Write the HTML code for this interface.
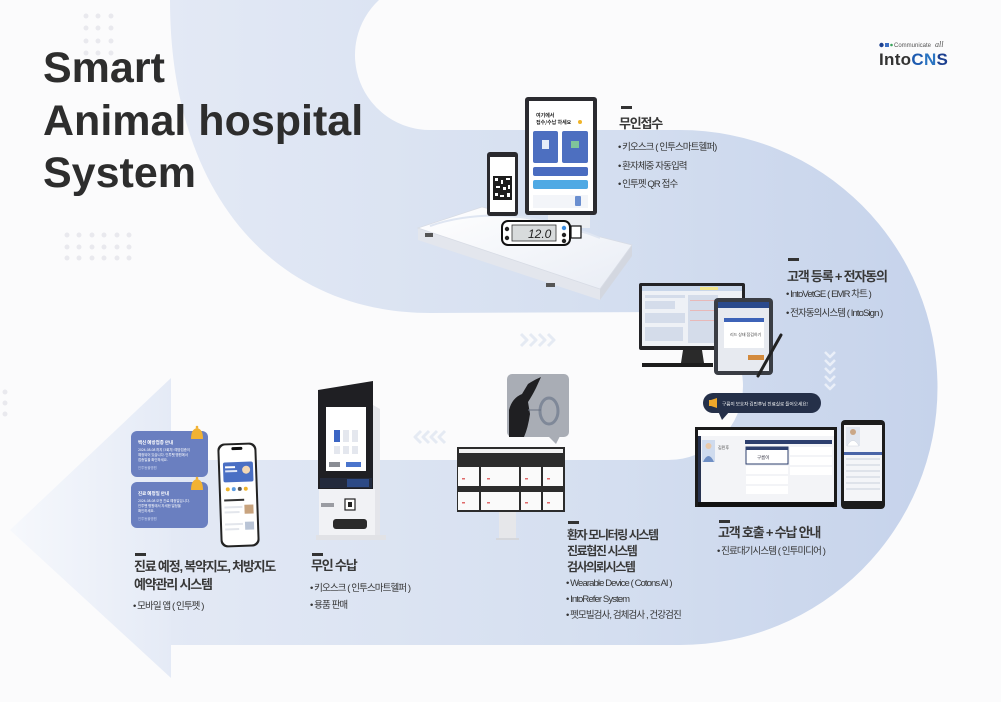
<!DOCTYPE html>
<html><head><meta charset="utf-8">
<style>
html,body{margin:0;padding:0;}
body{width:1001px;height:702px;position:relative;overflow:hidden;background:#fbfbfc;font-family:"Liberation Sans","Noto Sans CJK KR",sans-serif;}
.title{position:absolute;left:43px;top:42px;font-family:"Liberation Sans",sans-serif;font-weight:700;font-size:43px;line-height:52.5px;color:#2d2d2d;white-space:nowrap;}
.t{position:absolute;font-family:"Liberation Sans","Noto Sans CJK KR",sans-serif;font-size:13px;font-weight:700;color:#383838;letter-spacing:-1.2px;white-space:nowrap;line-height:16px;}
.b{position:absolute;font-family:"Liberation Sans","Noto Sans CJK KR",sans-serif;font-size:9.5px;font-weight:400;color:#333;letter-spacing:-0.9px;white-space:nowrap;line-height:18.5px;}
.dash{position:absolute;width:11px;height:2.5px;background:#333;}
.logo{position:absolute;left:879px;top:40px;white-space:nowrap;}
</style></head>
<body>
<svg width="1001" height="702" viewBox="0 0 1001 702" style="position:absolute;left:0;top:0">
<defs>
<linearGradient id="bandG" gradientUnits="userSpaceOnUse" x1="170" y1="0" x2="935" y2="0">
<stop offset="0" stop-color="#e3e9f5"/><stop offset="0.55" stop-color="#d5dff0"/><stop offset="1" stop-color="#c6d3eb"/>
</linearGradient>
<linearGradient id="arrowG" gradientUnits="userSpaceOnUse" x1="10" y1="0" x2="175" y2="0">
<stop offset="0" stop-color="#f6f8fc"/><stop offset="1" stop-color="#e4eaf6"/>
</linearGradient>
<linearGradient id="padG" x1="0" y1="0" x2="1" y2="1">
<stop offset="0" stop-color="#ffffff"/><stop offset="1" stop-color="#e9edf5"/>
</linearGradient>
</defs>
<!-- dot grids -->
<g fill="#e9e9ee">
<circle cx="86" cy="16" r="2.5"/><circle cx="98" cy="16" r="2.5"/><circle cx="111" cy="16" r="2.5"/>
<circle cx="86" cy="28" r="2.5"/><circle cx="98" cy="28" r="2.5"/><circle cx="111" cy="28" r="2.5"/>
<circle cx="86" cy="41" r="2.5"/><circle cx="98" cy="41" r="2.5"/><circle cx="111" cy="41" r="2.5"/>
<circle cx="86" cy="53" r="2.5"/><circle cx="98" cy="53" r="2.5"/><circle cx="111" cy="53" r="2.5"/>
<circle cx="67" cy="235" r="2.5"/><circle cx="79" cy="235" r="2.5"/><circle cx="92" cy="235" r="2.5"/><circle cx="104" cy="235" r="2.5"/><circle cx="117" cy="235" r="2.5"/><circle cx="129" cy="235" r="2.5"/>
<circle cx="67" cy="247" r="2.5"/><circle cx="79" cy="247" r="2.5"/><circle cx="92" cy="247" r="2.5"/><circle cx="104" cy="247" r="2.5"/><circle cx="117" cy="247" r="2.5"/><circle cx="129" cy="247" r="2.5"/>
<circle cx="67" cy="258" r="2.5"/><circle cx="79" cy="258" r="2.5"/><circle cx="92" cy="258" r="2.5"/><circle cx="104" cy="258" r="2.5"/><circle cx="117" cy="258" r="2.5"/><circle cx="129" cy="258" r="2.5"/>
<circle cx="5" cy="392" r="2.5"/><circle cx="5" cy="403" r="2.5"/><circle cx="5" cy="414" r="2.5"/>
</g>
<!-- band -->
<path d="M170,0 L379,0 A75,75 0 0,0 430,130 L680,130 A257.5,257.5 0 0,1 680,645 L170,645 L170,460 L668,460 A75,74 0 0,0 668,312 L430,313 C280,313 170,200 170,0 Z" fill="url(#bandG)"/>
<path d="M171,378 L171,678 L10,530 Z" fill="url(#arrowG)"/>

<!-- chevrons -->
<g fill="none" stroke="#e5eaf3" stroke-width="3" stroke-linejoin="round">
<polyline points="521,334 527,340 521,346"/><polyline points="530,334 536,340 530,346"/><polyline points="539,334 545,340 539,346"/><polyline points="548,334 554,340 548,346"/>
<polyline points="421,431 415,437 421,443"/><polyline points="429,431 423,437 429,443"/><polyline points="437,431 431,437 437,443"/><polyline points="445,431 439,437 445,443"/>
</g>
<g fill="none" stroke="#eef2fa" stroke-width="2.5" stroke-linejoin="round" opacity="0.9">
<polyline points="825,352 830,357 835,352"/><polyline points="825,360 830,365 835,360"/><polyline points="825,368 830,373 835,368"/><polyline points="825,376 830,381 835,376"/><polyline points="825,384 830,389 835,384"/>
</g>

<!-- scale platform -->
<polygon points="418,228 600,289 600,300 418,240" fill="#e3e6ed"/>
<polygon points="600,289 632,245 632,256 600,300" fill="#d3d7e0"/>
<polygon points="418,228 482,207 632,245 600,289" fill="url(#padG)" stroke="#d8dce5" stroke-width="0.8"/>
<path d="M430,226 Q470,212 520,217 Q560,222 600,238" fill="none" stroke="#dfe6f2" stroke-width="2"/>
<rect x="425" y="233" width="8" height="4" fill="#555"/>
<rect x="546" y="283" width="9" height="4" fill="#555"/>
<!-- kiosk stand -->
<rect x="548" y="208" width="42" height="20" fill="#eceef2"/>
<!-- tablet kiosk -->
<rect x="525" y="97" width="72" height="118" rx="3" fill="#2b2b30"/>
<rect x="529" y="101" width="64" height="110" fill="#ffffff"/>
<text x="536" y="117" font-size="5" font-weight="700" fill="#222" font-family="Noto Sans CJK KR,sans-serif">여기에서</text>
<text x="536" y="124" font-size="5" font-weight="700" fill="#222" font-family="Noto Sans CJK KR,sans-serif">접수/수납 하세요</text>
<circle cx="580" cy="122" r="2" fill="#f0b429"/>
<rect x="533" y="131" width="25" height="32" rx="2" fill="#4d6fc0"/>
<rect x="562" y="131" width="26" height="32" rx="2" fill="#4d6fc0"/>
<rect x="542" y="140" width="7" height="9" fill="#e6ecf8"/><rect x="571" y="141" width="8" height="7" fill="#7fc49a"/>
<rect x="533" y="167" width="55" height="9" rx="2" fill="#4a6cc0"/>
<rect x="533" y="180" width="55" height="9" rx="2" fill="#4fa9e4"/>
<rect x="533" y="195" width="55" height="13" fill="#f3f5f9"/>
<rect x="575" y="196" width="6" height="10" rx="1" fill="#6b8fd0"/>
<!-- phone QR -->
<rect x="487" y="152" width="31" height="64" rx="3" fill="#2a2a2e"/>
<rect x="490" y="157" width="25" height="55" fill="#ffffff"/>
<rect x="493" y="176" width="19" height="24" fill="#1e1e1e"/>
<g fill="#fff"><rect x="495" y="178" width="3" height="3"/><rect x="501" y="180" width="2" height="4"/><rect x="506" y="178" width="4" height="2"/><rect x="496" y="186" width="4" height="2"/><rect x="503" y="187" width="3" height="3"/><rect x="508" y="185" width="2" height="4"/><rect x="495" y="193" width="3" height="3"/><rect x="500" y="195" width="4" height="2"/><rect x="507" y="193" width="3" height="4"/></g>
<!-- digital display -->
<rect x="502" y="221" width="68" height="24" rx="6" fill="#ffffff" stroke="#111" stroke-width="2"/>
<rect x="512" y="225" width="44" height="16" fill="#d8dbdc" stroke="#333" stroke-width="0.8"/>
<text x="528" y="238" font-size="12" font-style="italic" fill="#222" font-family="Liberation Sans,sans-serif">12.0</text>
<circle cx="507" cy="229" r="2.2" fill="#222"/><circle cx="507" cy="238" r="2.2" fill="#222"/>
<circle cx="564" cy="228" r="2.2" fill="#3b8de0"/><circle cx="564" cy="235" r="2.2" fill="#222"/><circle cx="564" cy="241" r="2.2" fill="#222"/>
<rect x="571" y="226" width="10" height="12" fill="#fff" stroke="#111" stroke-width="1.2"/>

<!-- EMR monitor -->
<rect x="639" y="283" width="106" height="67" rx="2" fill="#232326"/>
<rect x="642" y="286" width="100" height="60" fill="#eef1f6"/>
<rect x="642" y="286" width="100" height="5" fill="#c8d6ea"/>
<rect x="700" y="287" width="18" height="3" fill="#f2e58c"/>
<g fill="#d4dcea"><rect x="645" y="295" width="40" height="3"/><rect x="645" y="301" width="30" height="8"/><rect x="645" y="313" width="40" height="10"/><rect x="645" y="327" width="38" height="14"/><rect x="688" y="295" width="30" height="48"/></g>
<g fill="#e8b9b9"><rect x="690" y="300" width="25" height="1"/><rect x="690" y="310" width="25" height="1"/><rect x="690" y="320" width="25" height="1"/></g>
<polygon points="683,350 702,350 704,363 681,363" fill="#2a2a2a"/>
<rect x="642" y="363" width="71" height="4" fill="#1d1d1d"/>
<!-- tablet -->
<rect x="714" y="298" width="59" height="77" rx="4" fill="#3a3d44"/>
<rect x="718" y="302" width="51" height="69" fill="#e7eaf0"/>
<rect x="718" y="302" width="51" height="6" fill="#2b4a8c"/>
<rect x="724" y="318" width="40" height="30" fill="#ffffff"/>
<rect x="724" y="318" width="40" height="4" fill="#3d63b8"/>
<text x="730" y="336" font-size="4" fill="#444" font-family="Noto Sans CJK KR,sans-serif">리드 상태 점검하기</text>
<rect x="748" y="355" width="16" height="5" fill="#d38a3c"/>
<line x1="781" y1="335" x2="758" y2="376" stroke="#222" stroke-width="3" stroke-linecap="round"/>

<!-- speech bubble -->
<rect x="703" y="393" width="118" height="20" rx="10" fill="#253049"/>
<polygon points="718,411 730,411 722,420" fill="#253049"/>
<polygon points="711,400 717,398 717,408 711,406" fill="#f0a82a"/>
<rect x="709" y="400" width="3" height="6" fill="#f0a82a"/>
<text x="722" y="405.5" font-size="4.6" fill="#ffffff" font-family="Noto Sans CJK KR,sans-serif">구름이 보호자 김민후님 진료실로 들어오세요!</text>

<!-- waiting display -->
<rect x="695" y="427" width="142" height="80" fill="#1a1a1a"/>
<rect x="698" y="430" width="136" height="72" fill="#f3f4f7"/>
<rect x="698" y="430" width="136" height="6" fill="#ffffff"/>
<rect x="698" y="436" width="3" height="66" fill="#27324f"/>
<rect x="702" y="440" width="13" height="22" fill="#cfdbee"/>
<circle cx="708.5" cy="446" r="3" fill="#e9c9a8"/>
<path d="M703,462 Q708.5,450 714,462 Z" fill="#6f8fc4"/>
<text x="718" y="449" font-size="4" fill="#333" font-family="Noto Sans CJK KR,sans-serif">김민후</text>
<rect x="745" y="440" width="87" height="4" fill="#2d3f6e"/>
<rect x="746" y="447" width="42" height="17" fill="#ffffff" stroke="#2d3f6e" stroke-width="1"/>
<rect x="746" y="447" width="42" height="3" fill="#2d3f6e"/>
<text x="757" y="459" font-size="4.5" fill="#223" font-family="Noto Sans CJK KR,sans-serif">구름이</text>
<g fill="#ffffff"><rect x="746" y="466" width="42" height="8"/><rect x="746" y="476" width="42" height="8"/><rect x="746" y="486" width="42" height="8"/><rect x="790" y="447" width="42" height="8"/><rect x="790" y="457" width="42" height="8"/><rect x="790" y="467" width="42" height="8"/></g>
<rect x="698" y="502" width="136" height="5" fill="#111"/>
<!-- waiting tablet -->
<rect x="841" y="420" width="44" height="89" rx="4" fill="#1c1c1c"/>
<rect x="844" y="425" width="38" height="76" fill="#f4f5f8"/>
<rect x="846" y="427" width="14" height="19" fill="#e1e6ef"/>
<circle cx="853" cy="432" r="3" fill="#caa787"/>
<path d="M847,446 Q853,435 859,446 Z" fill="#ffffff" stroke="#cfd5df" stroke-width="0.5"/>
<rect x="844" y="452" width="38" height="3" fill="#4a65a8"/>
<g fill="#dfe3ea"><rect x="846" y="458" width="34" height="2"/><rect x="846" y="464" width="34" height="2"/><rect x="846" y="470" width="34" height="2"/><rect x="846" y="476" width="34" height="2"/><rect x="846" y="482" width="34" height="2"/><rect x="846" y="488" width="34" height="2"/></g>

<!-- wearable photo -->
<rect x="507" y="374" width="62" height="63" rx="5" fill="#a9adb5"/>
<polygon points="548,436 560,436 556,444" fill="#a9adb5"/>
<path d="M509,437 L509,410 Q512,398 522,394 L528,384 Q534,380 541,377 L536,388 Q532,396 528,402 L530,414 Q528,428 524,437 Z" fill="#1f1f22"/>
<ellipse cx="549" cy="411" rx="9" ry="13" fill="none" stroke="#7f8898" stroke-width="3"/>
<line x1="528" y1="410" x2="541" y2="410" stroke="#6a7282" stroke-width="1"/>

<!-- monitoring screen -->
<rect x="457" y="447" width="108" height="65" fill="#2c2c2c"/>
<rect x="459" y="449" width="104" height="4" fill="#f2f2f2"/>
<g fill="#fafafa"><rect x="458" y="467" width="21" height="19"/><rect x="481" y="467" width="38" height="19"/><rect x="521" y="467" width="20" height="19"/><rect x="543" y="467" width="20" height="19"/>
<rect x="458" y="492" width="21" height="18"/><rect x="481" y="492" width="38" height="18"/><rect x="521" y="492" width="20" height="18"/><rect x="543" y="492" width="20" height="18"/></g>
<g fill="#e06b6b"><rect x="462" y="478" width="3" height="1.5"/><rect x="487" y="478" width="3" height="1.5"/><rect x="525" y="478" width="3" height="1.5"/><rect x="547" y="478" width="3" height="1.5"/><rect x="462" y="502" width="3" height="1.5"/><rect x="487" y="502" width="3" height="1.5"/><rect x="525" y="502" width="3" height="1.5"/><rect x="547" y="502" width="3" height="1.5"/></g>
<rect x="499" y="512" width="17" height="27" fill="#e6e7ea"/>
<rect x="496" y="538" width="23" height="2" fill="#d5d7dc"/>

<!-- payment kiosk -->
<polygon points="373,405 380,409 380,537 373,537" fill="#e4e5ea"/>
<polygon points="318,390 373,381 373,489 318,489" fill="#1f1f23"/>
<rect x="326" y="407" width="40" height="64" fill="#ffffff"/>
<rect x="334" y="430" width="6" height="12" fill="#3c66c4"/>
<g fill="#e4e7ee"><rect x="343" y="430" width="6" height="12"/><rect x="352" y="430" width="6" height="12"/><rect x="334" y="446" width="6" height="8"/><rect x="343" y="446" width="6" height="8"/><rect x="352" y="446" width="6" height="8"/></g>
<rect x="329" y="462" width="11" height="5" fill="#8a8d94"/>
<rect x="346" y="462" width="15" height="5" fill="#4a74cc"/>
<rect x="320" y="478" width="52" height="10" fill="#232a3c"/>
<rect x="347" y="479" width="22" height="8" fill="#2d4a86"/>
<rect x="319" y="489" width="56" height="48" fill="#f1f2f5"/>
<rect x="345" y="499" width="10" height="11" fill="#ffffff" stroke="#222" stroke-width="1.2"/>
<rect x="348" y="502" width="4" height="5" fill="#222"/>
<rect x="321" y="503" width="13" height="4" fill="#9a9ca2"/>
<rect x="333" y="519" width="34" height="10" rx="3" fill="#2a2a2a"/>
<rect x="316" y="535" width="70" height="5" fill="#e1e2e6"/>

<!-- notification cards -->
<rect x="131" y="431" width="77" height="46" rx="6" fill="#6a7fc0"/>
<rect x="131" y="482" width="77" height="46" rx="6" fill="#6a7fc0"/>
<g fill="#f2b233">
<path d="M191,439 Q191,429 197,428 Q203,429 203,439 Z"/><circle cx="197" cy="427" r="1.3"/>
<path d="M191,490 Q191,480 197,479 Q203,480 203,490 Z"/><circle cx="197" cy="478" r="1.3"/>
</g>
<g font-family="Noto Sans CJK KR,sans-serif" fill="#ffffff">
<text x="138" y="444" font-size="4.5" font-weight="700">백신 예방접종 안내</text>
<text x="138" y="451" font-size="3.4">2024-08-08 까지 (3회차) 예방접종이</text>
<text x="138" y="456" font-size="3.4">예정되어 있습니다. 인투펫 병원에서</text>
<text x="138" y="461" font-size="3.4">접종일을 확인하세요.</text>
<text x="138" y="469" font-size="3.4" fill="#c8d2ef">인투동물병원</text>
<text x="138" y="495" font-size="4.5" font-weight="700">진료 예정일 안내</text>
<text x="138" y="502" font-size="3.4">2024-08-08 오전 진료 예정일입니다.</text>
<text x="138" y="507" font-size="3.4">인투펫 병원에서 자세한 일정을</text>
<text x="138" y="512" font-size="3.4">확인하세요.</text>
<text x="138" y="520" font-size="3.4" fill="#c8d2ef">인투동물병원</text>
</g>

<!-- phone app -->
<g transform="rotate(-2 238 495)">
<rect x="219" y="443" width="39" height="104" rx="7" fill="#222"/>
<rect x="221" y="445" width="35" height="100" rx="6" fill="#ffffff"/>
<rect x="233" y="447" width="11" height="3" rx="1.5" fill="#111"/>
<rect x="224" y="462" width="30" height="20" rx="2" fill="#4a6fc4"/>
<circle cx="247" cy="470" r="4" fill="#f3d7b4"/>
<rect x="226" y="466" width="10" height="2" fill="#fff"/><rect x="226" y="470" width="12" height="2" fill="#dfe6f7"/>
<circle cx="228" cy="489" r="2" fill="#f0b429"/><circle cx="234" cy="489" r="2" fill="#5a9be0"/><circle cx="240" cy="489" r="2" fill="#555"/><circle cx="246" cy="489" r="2" fill="#f0b429"/>
<rect x="224" y="499" width="20" height="2" fill="#333"/>
<g fill="#e3e6ec"><rect x="224" y="506" width="18" height="2"/><rect x="224" y="511" width="15" height="2"/><rect x="224" y="523" width="18" height="2"/><rect x="224" y="528" width="14" height="2"/></g>
<rect x="244" y="505" width="9" height="9" fill="#c8a37e"/>
<rect x="244" y="522" width="9" height="8" fill="#b9c4d6"/>
</g>
</svg>

<div class="title">Smart<br>Animal hospital<br>System</div>

<div class="logo">
<svg width="72" height="28" viewBox="0 0 72 28" style="position:absolute;left:0;top:0">
<circle cx="2.5" cy="5" r="2.2" fill="#1b3f8f"/>
<rect x="6" y="3" width="4" height="4" fill="#3c6fc4"/>
<circle cx="12.5" cy="5" r="1.3" fill="#3aa35c"/>
<text x="15" y="7" font-size="6" fill="#555" font-family="Liberation Sans,sans-serif">Communicate</text>
<text x="56" y="7" font-size="8" font-style="italic" fill="#555" font-family="Liberation Serif,serif">all</text>
<text x="0" y="25" font-size="17" font-weight="700" fill="#333" font-family="Liberation Sans,sans-serif" letter-spacing="0.3">Into<tspan fill="#1d5bb0">C</tspan><tspan fill="#2a74c2">N</tspan><tspan fill="#1b3f8f">S</tspan></text>
</svg>
</div>

<!-- 무인접수 -->
<div class="dash" style="left:621px;top:106px"></div>
<div class="t" style="left:619px;top:116px">무인접수</div>
<div class="b" style="left:618px;top:139px">• 키오스크 ( 인투스마트헬퍼)<br>• 환자체중 자동입력<br>• 인투펫 QR 접수</div>

<!-- 고객 등록 -->
<div class="dash" style="left:788px;top:258px"></div>
<div class="t" style="left:787px;top:269px">고객 등록 + 전자동의</div>
<div class="b" style="left:786px;top:286px">• IntoVetGE ( EMR 차트 )<br>• 전자동의시스템 ( IntoSign )</div>

<!-- 고객 호출 -->
<div class="dash" style="left:719px;top:520px"></div>
<div class="t" style="left:718px;top:525px">고객 호출 + 수납 안내</div>
<div class="b" style="left:717px;top:543px">• 진료대기시스템 ( 인투미디어 )</div>

<!-- 환자 모니터링 -->
<div class="dash" style="left:568px;top:521px"></div>
<div class="t" style="left:567px;top:527px;font-size:12px;letter-spacing:-1.4px;line-height:16.2px">환자 모니터링 시스템<br>진료협진 시스템<br>검사의뢰시스템</div>
<div class="b" style="left:566px;top:576px;line-height:16.2px">• Wearable Device ( Cotons AI )<br>• IntoRefer System<br>• 펫모빌검사, 검체검사 , 건강검진</div>

<!-- 무인 수납 -->
<div class="dash" style="left:312px;top:553px"></div>
<div class="t" style="left:311px;top:558px">무인 수납</div>
<div class="b" style="left:310px;top:580px;line-height:17px">• 키오스크 ( 인투스마트헬퍼 )<br>• 용품 판매</div>

<!-- 진료 예정 -->
<div class="dash" style="left:135px;top:553px"></div>
<div class="t" style="left:134px;top:558px;line-height:17.5px">진료 예정, 복약지도, 처방지도<br>예약관리 시스템</div>
<div class="b" style="left:133px;top:598px">• 모바일 앱 ( 인투펫 )</div>
</body></html>
